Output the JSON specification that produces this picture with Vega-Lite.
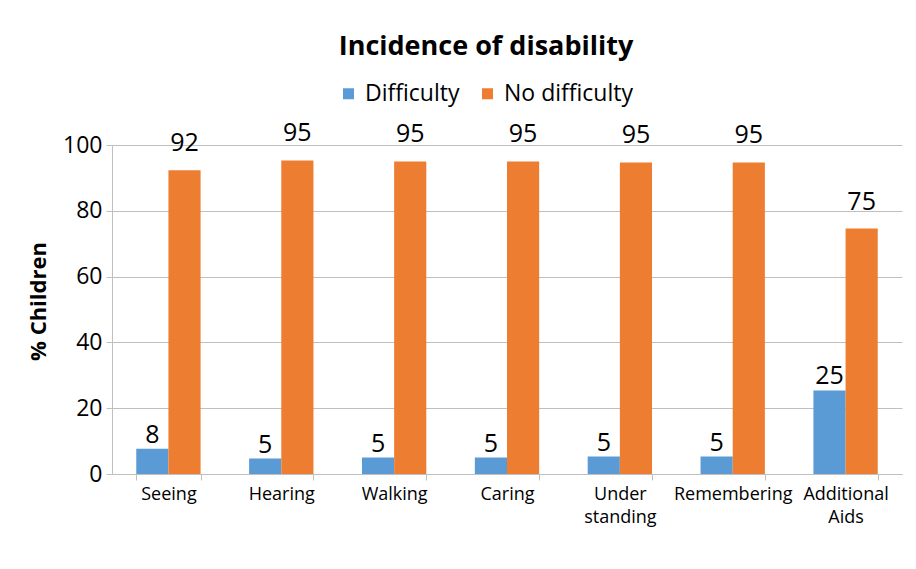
{
  "$schema": "https://vega.github.io/schema/vega-lite/v6.json",
  "width": 790,
  "height": 329,
  "autosize": {"type": "none"},
  "padding": {"left": 112, "top": 145, "right": 14, "bottom": 95},
  "background": "white",
  "config": {
    "view": {"stroke": null},
    "font": "Open Sans"
  },
  "title": {
    "text": "Incidence of disability",
    "font": "Open Sans",
    "fontSize": 27,
    "fontWeight": "bold",
    "color": "#000000",
    "anchor": "middle",
    "frame": "group",
    "dx": -21,
    "offset": 21
  },
  "data": {
    "values": [
      {"category": "Seeing", "series": "Difficulty", "value": 7.7},
      {"category": "Seeing", "series": "No difficulty", "value": 92.3},
      {"category": "Hearing", "series": "Difficulty", "value": 4.7},
      {"category": "Hearing", "series": "No difficulty", "value": 95.3},
      {"category": "Walking", "series": "Difficulty", "value": 5.0},
      {"category": "Walking", "series": "No difficulty", "value": 95.0},
      {"category": "Caring", "series": "Difficulty", "value": 5.0},
      {"category": "Caring", "series": "No difficulty", "value": 95.0},
      {"category": "Under standing", "series": "Difficulty", "value": 5.3},
      {"category": "Under standing", "series": "No difficulty", "value": 94.7},
      {"category": "Remembering", "series": "Difficulty", "value": 5.3},
      {"category": "Remembering", "series": "No difficulty", "value": 94.7},
      {"category": "Additional Aids", "series": "Difficulty", "value": 25.4},
      {"category": "Additional Aids", "series": "No difficulty", "value": 74.6}
    ]
  },
  "encoding": {
    "x": {
      "field": "category",
      "type": "nominal",
      "sort": ["Seeing", "Hearing", "Walking", "Caring", "Under standing", "Remembering", "Additional Aids"],
      "scale": {"paddingInner": 0.43, "paddingOuter": 0.215},
      "axis": {
        "title": null,
        "labelAngle": 0,
        "labelFont": "Open Sans",
        "labelFontSize": 18,
        "labelColor": "#000000",
        "labelExpr": "split(datum.label, ' ')",
        "labelLineHeight": 23,
        "labelPadding": 5,
        "labelBaseline": "top",
        "labelOverlap": false,
        "labelBound": false,
        "labelLimit": 200,
        "tickBand": "extent",
        "ticks": true,
        "tickSize": 6,
        "tickColor": "#BFBFBF",
        "domainColor": "#BFBFBF",
        "grid": false
      }
    },
    "xOffset": {"field": "series", "type": "nominal", "sort": ["Difficulty", "No difficulty"], "scale": {"paddingInner": 0, "paddingOuter": 0}},
    "y": {
      "field": "value",
      "type": "quantitative",
      "scale": {"domain": [0, 100], "nice": false},
      "axis": {
        "title": "% Children",
        "titleFont": "Open Sans",
        "titleFontSize": 22,
        "titleFontWeight": "bold",
        "titleColor": "#000000",
        "titleBaseline": "alphabetic",
        "titleX": -67,
        "titleY": 156,
        "titleAngle": -90,
        "values": [0, 20, 40, 60, 80, 100],
        "labelFont": "Open Sans",
        "labelFontSize": 23,
        "labelColor": "#000000",
        "labelPadding": 4,
        "tickSize": 6,
        "tickColor": "#BFBFBF",
        "domainColor": "#BFBFBF",
        "grid": true,
        "gridColor": "#BFBFBF"
      }
    }
  },
  "layer": [
    {
      "mark": {"type": "bar"},
      "encoding": {
        "color": {
          "field": "series",
          "type": "nominal",
          "scale": {"domain": ["Difficulty", "No difficulty"], "range": ["#5B9BD5", "#ED7D31"]},
          "legend": {
            "title": null,
            "orient": "none",
            "legendX": 225,
            "legendY": -63,
            "direction": "horizontal",
            "symbolType": "square",
            "symbolSize": 121,
            "symbolStrokeWidth": 0,
            "labelFont": "Open Sans",
            "labelFontSize": 23,
            "labelColor": "#000000",
            "labelOffset": 5,
            "columnPadding": 16,
            "labelLimit": 300
          }
        }
      }
    },
    {
      "transform": [{"filter": "datum.series == 'Difficulty'"}],
      "mark": {"type": "text", "baseline": "alphabetic", "dy": -6, "font": "Open Sans", "fontSize": 25, "color": "#000000"},
      "encoding": {"text": {"field": "value", "type": "quantitative", "format": ".0f"}}
    },
    {
      "transform": [{"filter": "datum.series == 'No difficulty'"}],
      "mark": {"type": "text", "baseline": "alphabetic", "dy": -19, "font": "Open Sans", "fontSize": 25, "color": "#000000"},
      "encoding": {"text": {"field": "value", "type": "quantitative", "format": ".0f"}}
    }
  ]
}
